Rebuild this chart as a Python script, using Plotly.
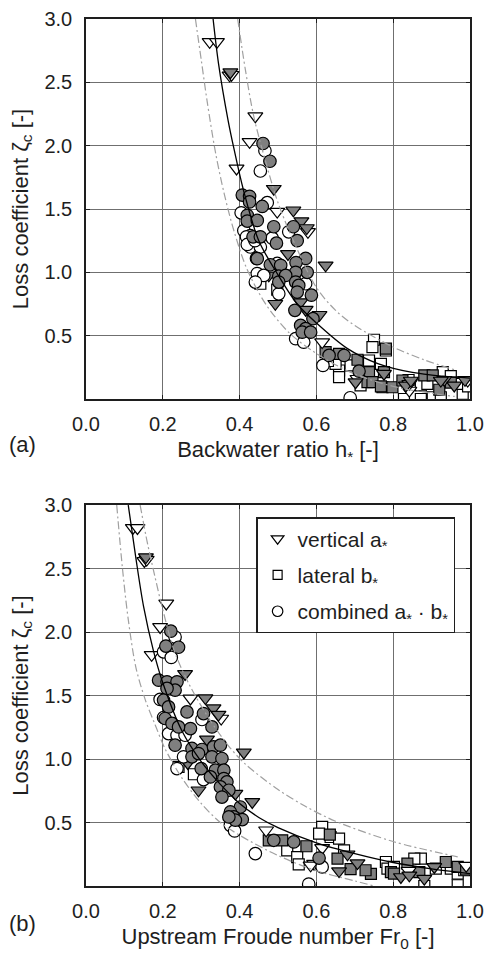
import plotly.graph_objects as go

# ---------------- panel (a): loss coefficient vs backwater ratio ----------------
# vertical contraction a*
a_vert_open_h = [0.322, 0.341, 0.374, 0.379, 0.441, 0.426, 0.392, 0.498, 0.578, 0.615, 0.707, 0.842, 0.994, 0.842]
a_vert_open_z = [2.82, 2.82, 2.555, 2.56, 2.233, 2.03, 1.82, 1.48, 1.32, 0.449, 0.16, 0.067, 0.146, 0.12]
a_vert_fill_h = [0.376, 0.489, 0.540, 0.561, 0.575, 0.526, 0.624, 0.476, 0.493, 0.559, 0.572, 0.608,
                 0.702, 0.833, 0.933, 0.959, 0.987, 0.776, 0.846, 0.924]
a_vert_fill_z = [2.58, 1.66, 1.49, 1.405, 1.35, 1.145, 1.055, 0.976, 0.752, 0.765, 0.705, 0.665,
                 0.133, 0.107, 0.152, 0.107, 0.152, 0.20, 0.146, 0.146]
# lateral contraction b*
a_lat_open_h = [0.454, 0.498, 0.659, 0.659, 0.750, 0.746, 0.781, 0.737, 0.768, 0.650, 0.689, 0.715,
                0.828, 0.872, 0.903, 0.924, 0.929, 0.981, 0.872, 0.889, 0.840, 0.950, 0.970, 0.995, 0.630]
a_lat_open_z = [0.91, 0.863, 0.225, 0.172, 0.468, 0.41, 0.383, 0.304, 0.278, 0.278, 0.265, 0.107,
                0.0, 0.0, 0.014, 0.014, 0.212, 0.041, 0.107, 0.12, 0.15, 0.18, 0.12, 0.10, 0.30]
a_lat_fill_h = [0.624, 0.781, 0.659, 0.707, 0.737, 0.733, 0.776, 0.772, 0.746, 0.798, 0.824, 0.881,
                0.903, 0.920, 0.768, 0.950]
a_lat_fill_z = [0.37, 0.397, 0.357, 0.31, 0.212, 0.133, 0.212, 0.093, 0.133, 0.093, 0.146, 0.186,
                0.186, 0.073, 0.099, 0.13]
# combined contraction a* . b*
a_comb_open_h = [0.466, 0.454, 0.472, 0.404, 0.528, 0.411, 0.428, 0.418, 0.485, 0.428, 0.454, 0.498,
                 0.446, 0.463, 0.441, 0.572, 0.502, 0.546, 0.567, 0.617, 0.688, 0.420, 0.440]
a_comb_open_z = [1.96, 1.80, 1.55, 1.47, 1.32, 1.33, 1.29, 1.28, 1.27, 1.20, 1.20, 1.07,
                 0.99, 0.976, 0.923, 0.91, 0.83, 0.476, 0.449, 0.265, 0.01, 1.22, 1.25]
a_comb_fill_h = [0.461, 0.479, 0.407, 0.426, 0.426, 0.459, 0.420, 0.420, 0.446, 0.489, 0.540, 0.435,
                 0.550, 0.496, 0.454, 0.444, 0.572, 0.480, 0.507, 0.547, 0.576, 0.546, 0.502, 0.446,
                 0.520, 0.546, 0.502, 0.554, 0.550, 0.587, 0.544, 0.591, 0.559, 0.572, 0.563, 0.585,
                 0.633, 0.672, 0.711]
a_comb_fill_z = [2.017, 1.877, 1.61, 1.60, 1.556, 1.52, 1.45, 1.405, 1.41, 1.36, 1.36, 1.28,
                 1.25, 1.23, 1.28, 1.11, 1.11, 1.06, 1.055, 1.077, 1.0, 1.0, 0.97, 1.108,
                 0.976, 0.923, 0.923, 0.897, 0.844, 0.82, 0.70, 0.634, 0.581, 0.555, 0.528, 0.528,
                 0.344, 0.344, 0.22]
# fitted curve and envelopes
a_fit_h = [0.331, 0.345, 0.370, 0.385, 0.410, 0.450, 0.500, 0.550, 0.600, 0.680, 0.760, 0.850, 0.930, 1.000]
a_fit_z = [3.0, 2.65, 2.2, 1.98, 1.65, 1.25, 0.98, 0.75, 0.60, 0.40, 0.28, 0.21, 0.18, 0.165]
a_up_h = [0.395, 0.415, 0.437, 0.470, 0.500, 0.540, 0.600, 0.650, 0.700, 0.800, 0.880, 0.960]
a_up_z = [3.0, 2.6, 2.23, 1.85, 1.55, 1.25, 0.88, 0.70, 0.58, 0.41, 0.31, 0.23]
a_lo_h = [0.285, 0.300, 0.315, 0.337, 0.360, 0.385, 0.420, 0.470, 0.530, 0.600, 0.690, 0.800, 0.900, 0.960]
a_lo_z = [3.0, 2.68, 2.36, 1.95, 1.62, 1.33, 1.02, 0.74, 0.52, 0.36, 0.21, 0.10, 0.045, 0.02]

# ---------------- panel (b): loss coefficient vs upstream Froude number ----------------
b_vert_open_f = [0.122, 0.134, 0.152, 0.158, 0.209, 0.193, 0.171, 0.272, 0.352, 0.469, 0.615, 0.594,
                 0.585, 0.840, 0.990]
b_vert_open_z = [2.82, 2.82, 2.56, 2.57, 2.225, 2.04, 1.82, 1.477, 1.319, 0.439, 0.30, 0.176,
                 0.163, 0.12, 0.16]
b_vert_fill_f = [0.156, 0.258, 0.311, 0.332, 0.345, 0.315, 0.411, 0.265, 0.293, 0.389, 0.433, 0.659,
                 0.681, 0.707, 0.820, 0.842, 0.881, 0.907]
b_vert_fill_z = [2.59, 1.67, 1.48, 1.40, 1.35, 1.154, 1.052, 0.969, 0.754, 0.728, 0.662, 0.117,
                 0.25, 0.18, 0.071, 0.084, 0.058, 0.15]
b_lat_open_f = [0.241, 0.281, 0.524, 0.550, 0.554, 0.615, 0.607, 0.637, 0.659, 0.672, 0.781, 0.785,
                0.802, 0.872, 0.855, 0.881, 0.911, 0.950, 0.968, 0.985, 0.968]
b_lat_open_z = [0.938, 0.88, 0.281, 0.228, 0.17, 0.465, 0.413, 0.386, 0.373, 0.281, 0.189, 0.137,
                0.15, 0.216, 0.216, 0.0, 0.137, 0.137, 0.098, 0.124, 0.006]
b_lat_fill_f = [0.476, 0.511, 0.574, 0.635, 0.655, 0.689, 0.742, 0.728, 0.794, 0.837, 0.868, 0.937,
                0.968, 0.802, 0.990]
b_lat_fill_z = [0.36, 0.36, 0.313, 0.405, 0.216, 0.133, 0.095, 0.124, 0.11, 0.176, 0.11, 0.189,
                0.15, 0.098, 0.13]
b_comb_open_f = [0.232, 0.202, 0.222, 0.193, 0.302, 0.202, 0.215, 0.237, 0.258, 0.254, 0.237, 0.306,
                 0.376, 0.387, 0.441, 0.615, 0.580]
b_comb_open_z = [1.96, 1.844, 1.80, 1.469, 1.311, 1.327, 1.20, 1.187, 1.187, 1.017, 0.925, 0.838,
                 0.478, 0.434, 0.255, 0.15, 0.015]
b_comb_fill_f = [0.221, 0.241, 0.208, 0.189, 0.211, 0.237, 0.232, 0.211, 0.202, 0.215, 0.263, 0.306,
                 0.328, 0.272, 0.206, 0.224, 0.241, 0.232, 0.276, 0.302, 0.332, 0.350, 0.276, 0.328,
                 0.354, 0.293, 0.300, 0.337, 0.359, 0.324, 0.359, 0.367, 0.350, 0.372, 0.354, 0.402,
                 0.376, 0.385, 0.407, 0.389, 0.372, 0.489, 0.541, 0.607]
b_comb_fill_z = [2.007, 1.88, 1.889, 1.621, 1.608, 1.608, 1.542, 1.556, 1.463, 1.41, 1.371, 1.358,
                 1.253, 1.24, 1.319, 1.28, 1.253, 1.109, 1.083, 1.075, 1.095, 1.109, 1.017, 1.017,
                 1.004, 1.043, 0.925, 0.912, 0.912, 0.859, 0.846, 0.82, 0.78, 0.754, 0.70, 0.622,
                 0.583, 0.544, 0.523, 0.518, 0.544, 0.36, 0.347, 0.22]
b_fit_f = [0.110, 0.130, 0.150, 0.175, 0.200, 0.250, 0.300, 0.350, 0.400, 0.450, 0.500, 0.600, 0.700, 0.800, 0.900, 1.000]
b_fit_z = [3.0, 2.58, 2.2, 1.86, 1.6, 1.22, 0.98, 0.80, 0.65, 0.54, 0.46, 0.34, 0.255, 0.185, 0.135, 0.098]
b_up_f = [0.141, 0.160, 0.180, 0.198, 0.230, 0.270, 0.320, 0.372, 0.415, 0.500, 0.570, 0.650, 0.800, 0.968]
b_up_z = [3.0, 2.7, 2.43, 2.2, 1.85, 1.58, 1.32, 1.1, 0.96, 0.76, 0.63, 0.51, 0.35, 0.23]
b_lo_f = [0.080, 0.095, 0.110, 0.130, 0.154, 0.180, 0.206, 0.250, 0.300, 0.350, 0.400, 0.500, 0.600, 0.700, 0.750]
b_lo_z = [3.0, 2.5, 2.1, 1.72, 1.47, 1.27, 1.08, 0.85, 0.65, 0.50, 0.40, 0.24, 0.12, 0.04, 0.0]

x_ticks = [0.0, 0.2, 0.4, 0.6, 0.8, 1.0]
y_ticks = [0.5, 1.0, 1.5, 2.0, 2.5, 3.0]

FONT = "Liberation Sans, Arial, Helvetica, sans-serif"
INK = "#1e1e1e"
GRAY = "#7f7f7f"
OPEN = "white"
SYMBOLS = {"vert": ("triangle-down", 13), "lat": ("square", 11), "comb": ("circle", 12.5)}
LEGEND_SIZE = {"vert": 11, "lat": 9, "comb": 10.5}
NAMES = {"vert": "vertical a<sub>*</sub>", "lat": "lateral b<sub>*</sub>",
         "comb": "combined a<sub>*</sub> · b<sub>*</sub>"}
RANK = {"vert": 1, "lat": 2, "comb": 3}

fig = go.Figure()


def add_points(x, y, kind, filled, axis):
    sym, size = SYMBOLS[kind]
    fig.add_trace(go.Scatter(
        x=x, y=y, mode="markers", name=NAMES[kind], legendgroup=kind,
        xaxis="x" if axis == 1 else "x2", yaxis="y" if axis == 1 else "y2",
        marker=dict(symbol=sym, size=size, color=GRAY if filled else OPEN,
                    line=dict(color="black", width=1.2)),
        showlegend=False, hoverinfo="skip"))


def add_legend_entry(kind):
    # legend-only entry with a smaller open symbol
    sym, _ = SYMBOLS[kind]
    fig.add_trace(go.Scatter(
        x=[None], y=[None], mode="markers", name=NAMES[kind], legendgroup=kind,
        xaxis="x2", yaxis="y2", legendrank=RANK[kind],
        marker=dict(symbol=sym, size=LEGEND_SIZE[kind], color=OPEN,
                    line=dict(color="black", width=1.2)),
        showlegend=True, hoverinfo="skip"))


def add_curve(x, y, axis, solid):
    fig.add_trace(go.Scatter(
        x=x, y=y, mode="lines", showlegend=False, hoverinfo="skip",
        xaxis="x" if axis == 1 else "x2", yaxis="y" if axis == 1 else "y2",
        line=dict(color="black" if solid else "#a0a0a0", width=1.3 if solid else 1.2,
                  dash="solid" if solid else "8px,3px,2px,3px", shape="spline", smoothing=0.9)))


panels = [
    (1, [(a_lat_open_h, a_lat_open_z, "lat", False), (a_lat_fill_h, a_lat_fill_z, "lat", True),
         (a_vert_open_h, a_vert_open_z, "vert", False), (a_vert_fill_h, a_vert_fill_z, "vert", True),
         (a_comb_open_h, a_comb_open_z, "comb", False), (a_comb_fill_h, a_comb_fill_z, "comb", True)],
     [(a_fit_h, a_fit_z, True), (a_up_h, a_up_z, False), (a_lo_h, a_lo_z, False)]),
    (2, [(b_lat_open_f, b_lat_open_z, "lat", False), (b_lat_fill_f, b_lat_fill_z, "lat", True),
         (b_vert_open_f, b_vert_open_z, "vert", False), (b_vert_fill_f, b_vert_fill_z, "vert", True),
         (b_comb_open_f, b_comb_open_z, "comb", False), (b_comb_fill_f, b_comb_fill_z, "comb", True)],
     [(b_fit_f, b_fit_z, True), (b_up_f, b_up_z, False), (b_lo_f, b_lo_z, False)]),
]

for axis, pts, curves in panels:
    for x, y, kind, filled in pts:
        add_points(x, y, kind, filled, axis)
    for x, y, solid in curves:
        add_curve(x, y, axis, solid)

for kind in ("vert", "lat", "comb"):
    add_legend_entry(kind)

axis_common = dict(
    showgrid=True, gridcolor="#6f6f6f", gridwidth=1.2, zeroline=False,
    showline=True, linecolor=INK, linewidth=1.6, mirror="allticks",
    ticks="inside", ticklen=4, tickcolor=INK, tickwidth=1.2, automargin=False,
    tickfont=dict(family=FONT, size=20, color=INK),
)
xfmt = dict(range=[0, 1], tickvals=x_ticks, ticktext=[f"{v:.1f}" for v in x_ticks],
            ticklabelstandoff=6, **axis_common)
yfmt = dict(range=[0, 3], tickvals=y_ticks, ticktext=[f"{v:.1f}" for v in y_ticks],
            ticklabelstandoff=8, **axis_common)
title_font = dict(family=FONT, size=22, color=INK)
ytitle = dict(text="Loss coefficient ζ<sub>c</sub> [-]", font=title_font, standoff=10)

fig.update_layout(
    width=485, height=953,
    margin=dict(l=86, r=15, t=19, b=67, autoexpand=False),
    paper_bgcolor="white", plot_bgcolor="white",
    font=dict(family=FONT, color=INK),
    xaxis=dict(domain=[0, 1], anchor="y",
               title=dict(text="Backwater ratio h<sub>*</sub> [-]", font=title_font, standoff=8), **xfmt),
    yaxis=dict(domain=[0.5617, 1], anchor="x", title=ytitle, **yfmt),
    xaxis2=dict(domain=[0, 1], anchor="y2",
                title=dict(text="Upstream Froude number Fr<sub>0</sub> [-]", font=title_font, standoff=8), **xfmt),
    yaxis2=dict(domain=[0, 0.4394], anchor="x2", title=ytitle, **yfmt),
    legend=dict(x=0.443, y=0.4256, xanchor="left", yanchor="top",
                bgcolor="white", bordercolor=INK, borderwidth=1.5,
                font=dict(family=FONT, size=21, color=INK),
                tracegroupgap=6),
    annotations=[
        dict(text="(a)", xref="paper", yref="paper", x=-0.206, y=0.5098, xanchor="left", yanchor="middle",
             showarrow=False, font=title_font),
        dict(text="(b)", xref="paper", yref="paper", x=-0.206, y=-0.0438, xanchor="left", yanchor="middle",
             showarrow=False, font=title_font),
    ],
)

fig.write_html("out.html")
